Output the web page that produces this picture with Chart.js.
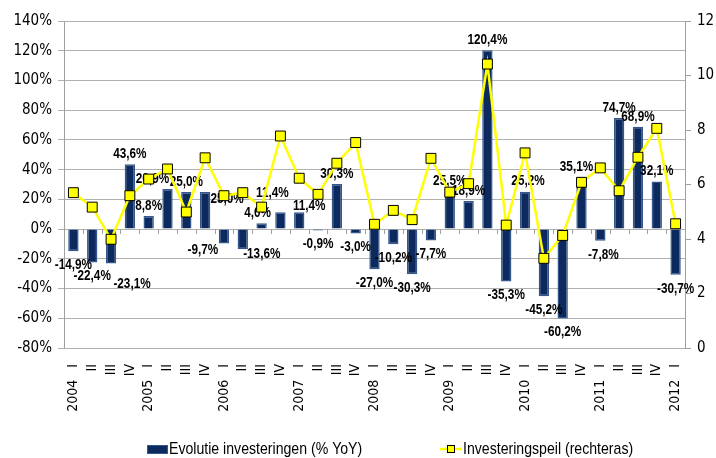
<!DOCTYPE html>
<html>
<head>
<meta charset="utf-8">
<script src="https://cdn.jsdelivr.net/npm/chart.js@4.4.1/dist/chart.umd.min.js"></script>
<style>
  html, body { margin: 0; padding: 0; background: #fff; }
  #wrap { width: 716px; height: 458px; }
</style>
</head>
<body>
<div id="wrap"><canvas id="myChart" width="716" height="458"></canvas></div>
<script>
// quarters 2004 I .. 2012 I
var years = ['2004', '2005', '2006', '2007', '2008', '2009', '2010', '2011', '2012'];
var quarterNames = ['I', 'II', 'III', 'IV'];
var quarters = [];
years.forEach(function(y, k) {
  quarterNames.forEach(function(q, j) {
    if (k === years.length - 1 && j > 0) return;
    quarters.push(j === 0 ? y + '   ' + q : q);
  });
});

// Evolutie investeringen (% YoY)
var growth = [-14.9, -22.4, -23.1, 43.6, 8.8, 26.9, 25.0, 25.0, -9.7, -13.6, 4.0, 11.4,
  11.4, -0.9, 30.3, -3.0, -27.0, -10.2, -30.3, -7.7, 25.5, 18.9, 120.4, -35.3,
  25.2, -45.2, -60.2, 35.1, -7.8, 74.7, 68.9, 32.1, -30.7];

// Investeringspeil (rechteras)
var level = [5.70, 5.17, 3.99, 5.59, 6.20, 6.57, 4.99, 6.98, 5.59, 5.70, 5.17, 7.78,
  6.23, 5.64, 6.78, 7.54, 4.54, 5.05, 4.71, 6.96, 5.72, 6.03, 10.42, 4.51,
  7.16, 3.29, 4.13, 6.08, 6.61, 5.77, 7.00, 8.06, 4.56];

var legendNames = ['Evolutie investeringen (% YoY)', 'Investeringspeil (rechteras)'];

// hand-moved data labels (pixel nudges, like in the original)
var labelShift = {2: [21, 7], 5: [-15, 0], 7: [22, 17], 8: [-21, -7], 9: [19, -9],
  10: [-4, 0], 11: [-8, -9], 12: [10, 4], 24: [3, 0], 27: [-5, 0], 28: [3, 0]};

var FONT = "'Liberation Sans Narrow', 'Arial Narrow', 'DejaVu Sans Condensed', sans-serif";
var barColor = '#0c2a5e';
var barEdge = '#35588c';
var gridColor = '#b0b0b0';

function fmt(v) {
  return v.toFixed(1).replace('.', ',') + '%';
}

// draw text squeezed horizontally, like Arial Narrow
function narrowText(ctx, text, x, y, squeeze) {
  ctx.save();
  ctx.translate(x, y);
  ctx.scale(squeeze, 1);
  ctx.fillText(text, 0, 0);
  ctx.restore();
}

// value labels on the bars, drawn before the line
var barLabels = {
  id: 'barLabels',
  afterDatasetDraw: function(chart, args) {
    if (args.index !== 0) return;
    var ctx = chart.ctx;
    var meta = chart.getDatasetMeta(0);
    ctx.save();
    ctx.font = "bold 14px 'Liberation Sans', Arial, sans-serif";
    ctx.fillStyle = '#000';
    ctx.textAlign = 'center';
    meta.data.forEach(function(bar, i) {
      var v = growth[i];
      var s = labelShift[i] || [0, 0];
      var y;
      if (v >= 0) {
        ctx.textBaseline = 'bottom';
        y = bar.y - 3;
      } else {
        ctx.textBaseline = 'top';
        y = bar.y + 7;
      }
      narrowText(ctx, fmt(v), bar.x + s[0], y + s[1], 0.84);
    });
    ctx.restore();
  }
};

// small tick marks along the 0% line between categories
var zeroTicks = {
  id: 'zeroTicks',
  beforeDatasetsDraw: function(chart) {
    var ctx = chart.ctx;
    var xs = chart.scales.x;
    var y0 = chart.scales.y.getPixelForValue(0);
    var step = xs.width / quarters.length;
    ctx.save();
    ctx.strokeStyle = '#a0a0a0';
    ctx.lineWidth = 1;
    ctx.beginPath();
    for (var i = 0; i <= quarters.length; i++) {
      var x = Math.round(xs.left + i * step) + 0.5;
      ctx.moveTo(x, y0);
      ctx.lineTo(x, y0 + 5);
    }
    ctx.stroke();
    ctx.restore();
  }
};

// legend at the bottom, drawn like the spreadsheet one
var bottomLegend = {
  id: 'bottomLegend',
  afterDraw: function(chart) {
    var ctx = chart.ctx;
    var y = 449;
    ctx.save();
    ctx.font = "17px 'Liberation Sans', Arial, sans-serif";
    ctx.textBaseline = 'middle';
    ctx.textAlign = 'left';

    ctx.fillStyle = barColor;
    ctx.fillRect(147, y - 4, 21, 9);
    ctx.strokeStyle = barEdge;
    ctx.lineWidth = 1;
    ctx.strokeRect(147.5, y - 3.5, 20, 8);
    ctx.fillStyle = '#000';
    narrowText(ctx, legendNames[0], 169, y, 0.83);

    ctx.strokeStyle = '#ffff00';
    ctx.lineWidth = 2.5;
    ctx.beginPath();
    ctx.moveTo(440, y);
    ctx.lineTo(462, y);
    ctx.stroke();
    ctx.fillStyle = '#ffff00';
    ctx.fillRect(447, y - 4, 8, 8);
    ctx.strokeStyle = '#000';
    ctx.lineWidth = 1;
    ctx.strokeRect(447.5, y - 3.5, 7, 7);
    ctx.fillStyle = '#000';
    narrowText(ctx, legendNames[1], 463, y, 0.83);
    ctx.restore();
  }
};

var ctx = document.getElementById('myChart');
var myChart = new Chart(ctx, {
  type: 'bar',
  data: {
    labels: quarters,
    datasets: [
      {
        label: legendNames[0],
        data: growth,
        yAxisID: 'y',
        backgroundColor: barColor,
        borderColor: barEdge,
        borderWidth: 1.5,
        barPercentage: 0.55,
        categoryPercentage: 1.0,
        order: 2
      },
      {
        type: 'line',
        label: legendNames[1],
        data: level,
        yAxisID: 'y1',
        borderColor: '#ffff00',
        borderWidth: 2.5,
        pointStyle: 'rect',
        pointRadius: 7,
        pointBackgroundColor: '#ffff00',
        pointBorderColor: '#000',
        pointBorderWidth: 1,
        tension: 0,
        order: 1
      }
    ]
  },
  plugins: [barLabels, zeroTicks, bottomLegend],
  options: {
    responsive: false,
    animation: false,
    devicePixelRatio: 1,
    layout: {
      padding: { top: 21, bottom: 40, left: 0, right: 0 }
    },
    plugins: {
      legend: { display: false },
      tooltip: { enabled: false }
    },
    scales: {
      x: {
        offset: true,
        grid: { display: false, drawTicks: false },
        border: { display: false },
        ticks: {
          autoSkip: false,
          minRotation: 90,
          maxRotation: 90,
          padding: 16,
          color: '#000',
          font: { family: FONT, size: 14 }
        },
        afterFit: function(scale) { scale.height = 70; }
      },
      y: {
        position: 'left',
        min: -80,
        max: 140,
        grid: { color: gridColor, tickLength: 6 },
        border: { color: '#a0a0a0' },
        ticks: {
          stepSize: 20,
          color: '#000',
          padding: 6,
          font: { family: FONT, size: 15 },
          callback: function(v) { return v + '%'; }
        },
        afterFit: function(scale) { scale.width = 64; }
      },
      y1: {
        position: 'right',
        min: 0,
        max: 12,
        grid: { drawOnChartArea: false, color: '#a0a0a0', tickLength: 6 },
        border: { color: '#a0a0a0' },
        ticks: {
          stepSize: 2,
          color: '#000',
          padding: 6,
          font: { family: FONT, size: 15 }
        },
        afterFit: function(scale) { scale.width = 31; }
      }
    }
  }
});
</script>
</body>
</html>
